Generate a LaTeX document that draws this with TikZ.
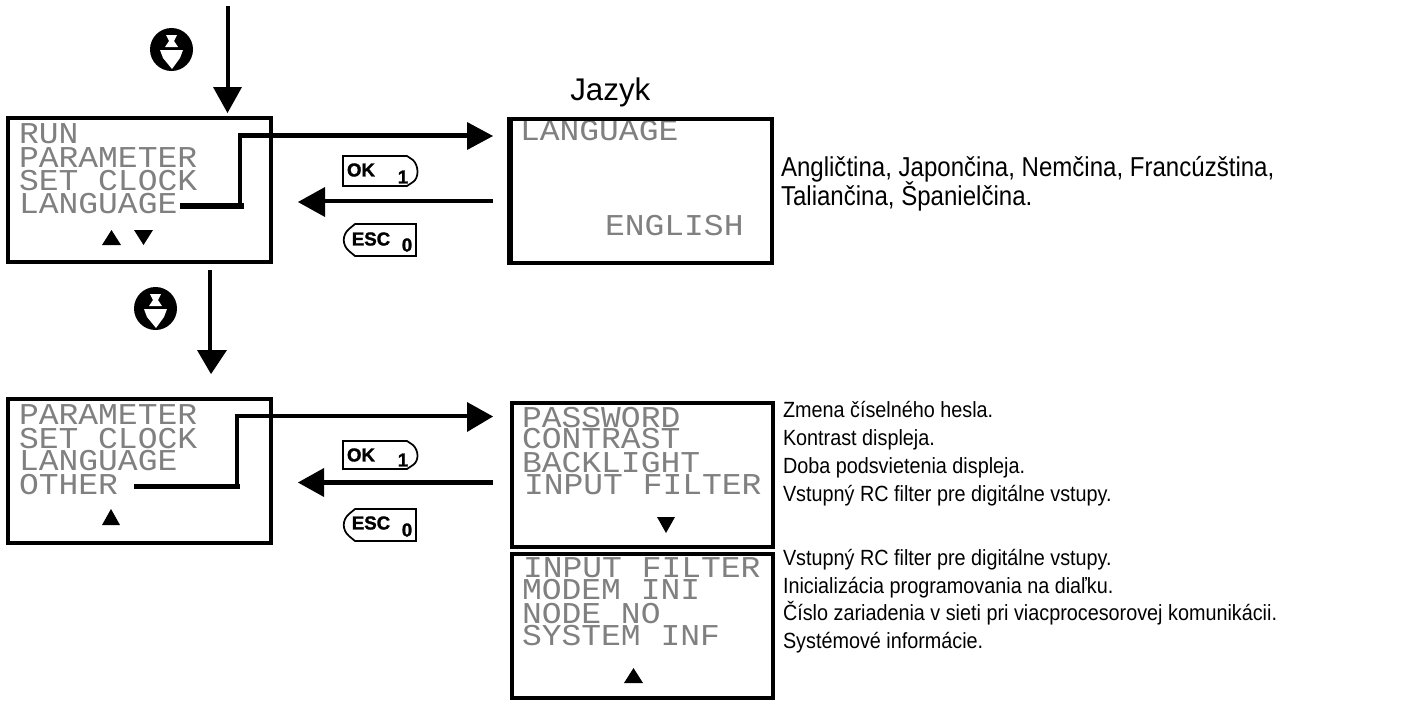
\documentclass[tikz,border=0pt]{standalone}
\usepackage{fontspec}
\setmainfont{Liberation Sans}
\newfontfamily\lcdfont[FakeStretch=1.09]{Liberation Mono}
\newfontfamily\smallcond[FakeStretch=0.9]{Liberation Sans}
\newfontfamily\bigcond[FakeStretch=0.88]{Liberation Sans}
\newfontfamily\keyfont[FakeBold=1.5]{Liberation Sans Bold}
\definecolor{lcd}{gray}{0.5}
\tikzset{
  screen/.style={draw=black,line width=2.5pt,fill=none},
  lcdtext/.style={anchor=base west,inner sep=0pt,outer sep=0pt,text=lcd,font=\lcdfont\fontsize{22.7pt}{22.7pt}\selectfont},
  conn/.style={draw=black,line width=3.2pt},
  head/.style={fill=black,draw=none},
  note/.style={anchor=base west,inner sep=0pt,outer sep=0pt,font=\smallcond\fontsize{16.5pt}{18pt}\selectfont},
  bignote/.style={anchor=base west,inner sep=0pt,outer sep=0pt,font=\bigcond\fontsize{20.5pt}{22pt}\selectfont},
  keybox/.style={draw=black,line width=1.3pt,fill=white},
  keytxt/.style={inner sep=0pt,outer sep=0pt,font=\keyfont\fontsize{14pt}{14pt}\selectfont},
  keynum/.style={inner sep=0pt,outer sep=0pt,font=\keyfont\fontsize{14pt}{14pt}\selectfont},
}
\begin{document}
\begin{tikzpicture}[x=0.75pt,y=-0.75pt]
\useasboundingbox (0,0) rectangle (1401,700);
\fill[white] (0,0) rectangle (1401,700);
% LCD text
\node[lcdtext] (a1) at (19,143) {RUN};
\node[lcdtext] (a2) at (19,167) {PARAMETER};
\node[lcdtext] (a3) at (19,190) {SET CLOCK};
\node[lcdtext] (a4) at (19,213) {LANGUAGE};
\node[lcdtext] (b1) at (19,424) {PARAMETER};
\node[lcdtext] (b2) at (19,448) {SET CLOCK};
\node[lcdtext] (b3) at (19,470) {LANGUAGE};
\node[lcdtext] (b4) at (19,494) {OTHER};
\node[lcdtext] (c1) at (520,140) {LANGUAGE};
\node[lcdtext] (c2) at (605,235) {ENGLISH};
\node[lcdtext] (d1) at (522,427) {PASSWORD};
\node[lcdtext] (d2) at (522,448) {CONTRAST};
\node[lcdtext] (d3) at (522,472) {BACKLIGHT};
\node[lcdtext] (d4) at (524,494) {INPUT FILTER};
\node[lcdtext] (e1) at (523,577) {INPUT FILTER};
\node[lcdtext] (e2) at (522,599) {MODEM INI};
\node[lcdtext] (e3) at (522,623) {NODE NO};
\node[lcdtext] (e4) at (522,645) {SYSTEM INF};
% screens
\draw[screen] (8,118) rectangle (271,262);
\draw[screen] (8,399) rectangle (271,543);
\draw[screen] (509,119) rectangle (772,263);
\draw[screen,line width=4pt] (510,119) -- (510,263);
\draw[screen] (512,403) rectangle (773,547);
\draw[screen,line width=3.6pt] (512,547) -- (773,547);
\draw[screen] (512,554) rectangle (773,698);
% scroll triangles
\fill (102,245) -- (121,245) -- (111.5,230) -- cycle;
\fill (134,230) -- (153,230) -- (143.5,245) -- cycle;
\fill (102,525) -- (120,525) -- (111,509) -- cycle;
\fill (657,517) -- (675,517) -- (666,533) -- cycle;
\fill (624,683) -- (643,683) -- (633.5,668) -- cycle;
% connectors
\coordinate (t0) at (228,6);
\coordinate (t1) at (228,92);
\draw[conn] (t0) -- (t1);
\fill[head] (213,87) -- (242,87) -- (227.5,113) -- cycle;
\coordinate (u0) at (210,270);
\coordinate (u1) at (210,355);
\draw[conn] (u0) -- (u1);
\fill[head] (197,350) -- (227,350) -- (211,374) -- cycle;
\coordinate (v0) at (180,206);
\coordinate (v1) at (244,206);
\coordinate (v2) at (240,207);
\coordinate (v3) at (240,135.5);
\coordinate (v4) at (470,135.5);
\draw[conn,line width=4.4pt] (v0) -- (v1);
\draw[conn] (v2) -- (v3) -- (v4);
\fill[head] (467,122) -- (493,136) -- (467,150) -- cycle;
\coordinate (w0) at (493,201);
\coordinate (w1) at (320,201);
\draw[conn] (w0) -- (w1);
\fill[head] (325,187) -- (298,202) -- (325,217) -- cycle;
\coordinate (x0) at (134,486.5);
\coordinate (x1) at (240,486.5);
\coordinate (x2) at (237,487);
\coordinate (x3) at (237,416);
\coordinate (x4) at (470,416);
\draw[conn] (x0) -- (x1);
\draw[conn] (x2) -- (x3) -- (x4);
\fill[head] (467,402) -- (493,416.5) -- (467,432) -- cycle;
\coordinate (y0) at (493,482.5);
\coordinate (y1) at (320,482.5);
\draw[conn] (y0) -- (y1);
\fill[head] (324,468) -- (298,482.5) -- (324,497) -- cycle;
% keys
\draw[keybox] (343,156) -- (407,156) -- (413,160) .. controls (419,166) and (419,178) .. (413,182) -- (407,186) -- (343,186) -- cycle;
\node[keytxt] (k1) at (361,170) {OK};
\node[keynum] (k1n) at (403,177) {1};
\draw[keybox] (416,224) -- (355,224) -- (349,229) .. controls (342,235) and (342,245) .. (349,251) -- (355,256) -- (416,256) -- cycle;
\node[keytxt] (k2) at (371,239) {ESC};
\node[keynum] (k2n) at (407,245) {0};
\draw[keybox] (343,441) -- (407,441) -- (413,445) .. controls (419,451) and (419,461) .. (413,465) -- (407,469) -- (343,469) -- cycle;
\node[keytxt] (k3) at (361,455) {OK};
\node[keynum] (k3n) at (403,460) {1};
\draw[keybox] (416,509) -- (355,509) -- (349,514) .. controls (342,520) and (342,530) .. (349,536) -- (355,541) -- (416,541) -- cycle;
\node[keytxt] (k4) at (371,523) {ESC};
\node[keynum] (k4n) at (407,530) {0};
% round keys
\fill (171.5,49.5) circle (21.5);
\fill[white] (166,35) -- (177,35) -- (174,41) -- (178,47) -- (165,47) -- (169,41) -- cycle;
\fill[white] (160,50) -- (183,50) -- (180,58) -- (172,69) -- (163,58) -- cycle;
\fill (155.5,308.5) circle (21.5);
\fill[white] (150,294) -- (161,294) -- (158,300) -- (162,306) -- (149,306) -- (153,300) -- cycle;
\fill[white] (144,309) -- (167,309) -- (164,317) -- (156,328) -- (147,317) -- cycle;
% notes
\node[anchor=base west,inner sep=0pt,font=\fontsize{23.5pt}{26pt}\selectfont] (j) at (570,100) {Jazyk};
\node[bignote] (n1) at (781,176) {Angličtina, Japončina, Nemčina, Francúzština,};
\node[bignote] (n2) at (781,205) {Taliančina, Španielčina.};
\node[note] (m1) at (783,417) {Zmena číselného hesla.};
\node[note] (m2) at (783,445) {Kontrast displeja.};
\node[note] (m3) at (783,473) {Doba podsvietenia displeja.};
\node[note] (m4) at (783,501) {Vstupný RC filter pre digitálne vstupy.};
\node[note] (m5) at (783,565) {Vstupný RC filter pre digitálne vstupy.};
\node[note] (m6) at (783,593) {Inicializácia programovania na diaľku.};
\node[note] (m7) at (783,620) {Číslo zariadenia v sieti pri viacprocesorovej komunikácii.};
\node[note] (m8) at (783,648) {Systémové informácie.};
\end{tikzpicture}
\end{document}
